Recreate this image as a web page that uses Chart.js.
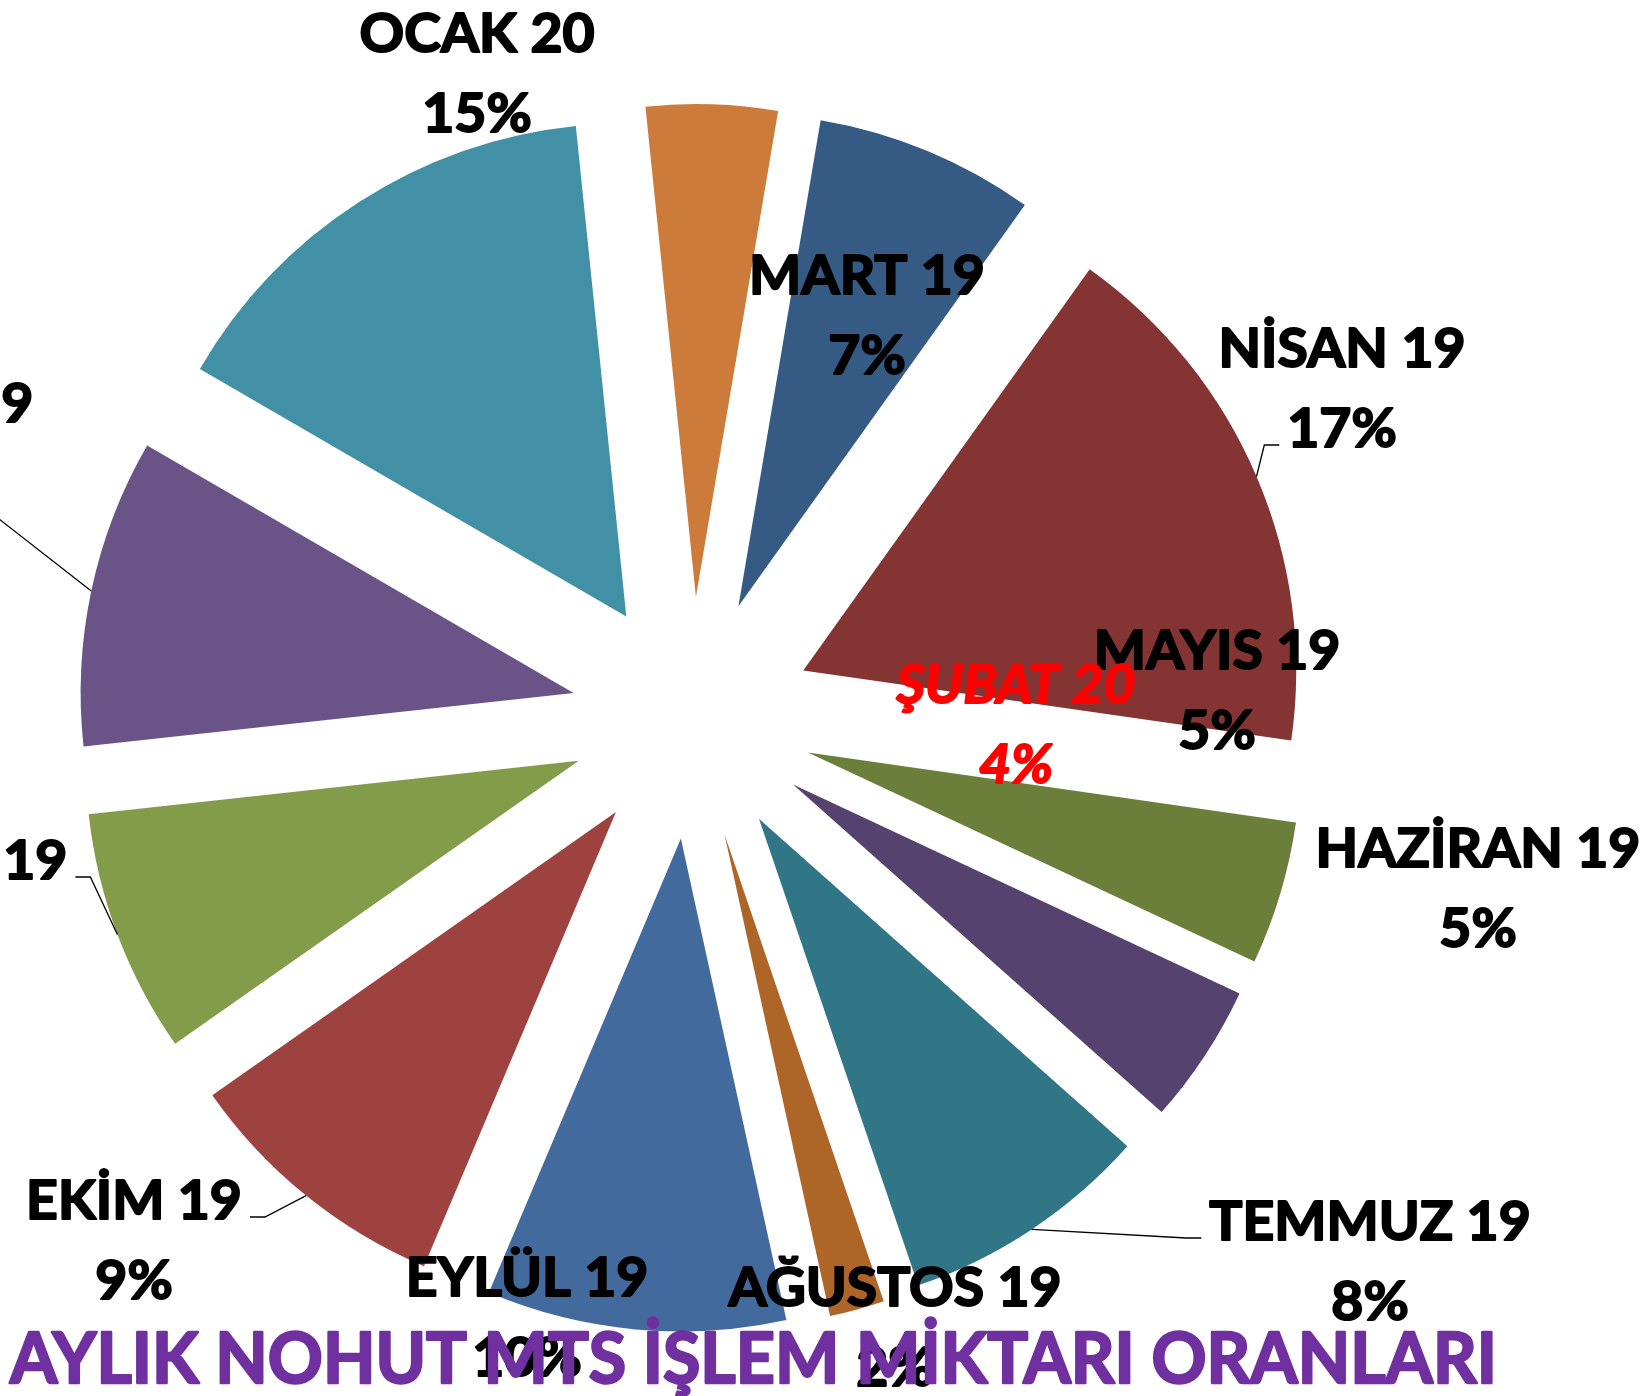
<!DOCTYPE html>
<html><head><meta charset="utf-8">
<script src="https://cdn.jsdelivr.net/npm/chart.js@4"></script>
<style>html,body{margin:0;padding:0;background:#fff;overflow:hidden}canvas{display:block}</style>
</head><body>
<canvas id="c" width="1651" height="1396"></canvas>
<script>
// ---- data ----
const categories = ['MART 19','NİSAN 19','MAYIS 19','HAZİRAN 19','TEMMUZ 19','AĞUSTOS 19','EYLÜL 19','EKİM 19','KASIM 19','ARALIK 19','OCAK 20','ŞUBAT 20'];
const shares = [7.2, 17.4, 4.7, 4.6, 8.2, 1.8, 9.8, 8.9, 8.0, 10.1, 15.0, 4.3];
const titleText = 'AYLIK NOHUT MTS İŞLEM MİKTARI ORANLARI';

// ---- styles / layout ----
const sliceColors = ['#355A84','#843533','#6B7E3A','#56426F','#317687','#AE6628','#436A9C','#9E4240','#829C4A','#6A5387','#4190A6','#CD7B3A'];
const labelColors = ['#000','#000','#000','#000','#000','#000','#000','#000','#000','#000','#000','#FF0000'];
const labelItalic = [false,false,false,false,false,false,false,false,false,false,false,true];
// label anchor (centre x, first-line baseline) relative to pie centre
const labelOffsets = [[175,-424],[650,-351],[525,-49],[786,149],[678,522],[203,588],[-165,578],[-558,501],[-751,161],[-795,-296],[-215,-666],[324,-15]];
// leader lines: [line index, side of text] or null
const leaderSpecs = [null,[1,'left'],null,null,[0,'left'],null,null,[0,'right'],[0,'right'],[1,'right'],null,null];
const EXPLODE = 121, RADIUS = 493, ROTATION = 9.6;
const LABEL_FONT = 54, LABEL_REF_WIDTH = 235, LINE_GAP = 80;
const TITLE_FONT = 70, TITLE_WIDTH = 1487, TITLE_X = 10, TITLE_BASE = 1383;
const FAMILY = 'Lato, "Open Sans", sans-serif';

const explodePlugin = {
  id: 'explode',
  beforeDatasetDraw(chart, args) {
    const ctx = chart.ctx;
    args.meta.data.forEach(arc => {
      const mid = (arc.startAngle + arc.endAngle) / 2;
      ctx.save();
      ctx.translate(Math.cos(mid) * EXPLODE, Math.sin(mid) * EXPLODE);
      arc.draw(ctx, chart.chartArea);
      ctx.restore();
    });
    return false;
  }
};

function drawScaled(ctx, text, x, y, sx, align, thick) {
  const w = ctx.measureText(text).width * sx;
  let left = x;
  if (align === 'center') left = x - w / 2;
  else if (align === 'right') left = x - w;
  ctx.save();
  ctx.translate(left, y);
  ctx.scale(sx, 1);
  ctx.textAlign = 'left';
  ctx.fillText(text, 0, 0);
  ctx.strokeStyle = ctx.fillStyle;
  ctx.lineWidth = thick;
  ctx.lineJoin = 'round';
  ctx.strokeText(text, 0, 0);
  ctx.restore();
  return [left, left + w];
}

const labelPlugin = {
  id: 'labels',
  afterDraw(chart) {
    const ctx = chart.ctx;
    const arcs = chart.getDatasetMeta(0).data;
    const cx = arcs[0].x, cy = arcs[0].y;
    const total = shares.reduce((a, b) => a + b, 0);
    ctx.save();
    ctx.font = 'bold ' + LABEL_FONT + 'px ' + FAMILY;
    const sx = LABEL_REF_WIDTH / ctx.measureText('OCAK 20').width;
    ctx.textBaseline = 'alphabetic';
    arcs.forEach((arc, i) => {
      const x = cx + labelOffsets[i][0], y = cy + labelOffsets[i][1];
      const lines = [categories[i], Math.round(shares[i] / total * 100) + '%'];
      ctx.font = (labelItalic[i] ? 'italic ' : '') + 'bold ' + LABEL_FONT + 'px ' + FAMILY;
      const spec = leaderSpecs[i];
      if (spec) {
        const li = spec[0];
        const w = ctx.measureText(lines[li]).width * sx;
        const by = y + li * LINE_GAP - 2;
        const endX = spec[1] === 'left' ? x - w / 2 - 8 : x + w / 2 + 8;
        const elbowX = spec[1] === 'left' ? endX - 15 : endX + 15;
        const mid = (arc.startAngle + arc.endAngle) / 2;
        const r = EXPLODE + arc.outerRadius;
        const sxp = arc.x + Math.cos(mid) * r, syp = arc.y + Math.sin(mid) * r;
        ctx.beginPath();
        ctx.moveTo(sxp, syp);
        ctx.lineTo(elbowX, by);
        ctx.lineTo(endX, by);
        ctx.strokeStyle = '#000';
        ctx.lineWidth = 1.3;
        ctx.stroke();
      }
      ctx.fillStyle = labelColors[i];
      lines.forEach((t, k) => drawScaled(ctx, t, x, y + k * LINE_GAP, sx, 'center', 2));
    });
    // title
    ctx.font = 'bold ' + TITLE_FONT + 'px ' + FAMILY;
    const tsx = TITLE_WIDTH / ctx.measureText(titleText).width;
    ctx.fillStyle = '#7030A0';
    drawScaled(ctx, titleText, TITLE_X, TITLE_BASE, tsx, 'left', 2.4);
    ctx.restore();
  }
};

new Chart(document.getElementById('c'), {
  type: 'pie',
  data: {
    labels: categories,
    datasets: [{
      data: shares,
      backgroundColor: sliceColors,
      borderWidth: 0,
      offset: 0
    }]
  },
  options: {
    responsive: false,
    devicePixelRatio: 1,
    animation: false,
    rotation: ROTATION,
    radius: RADIUS,
    layout: { padding: { left: 0, right: 267, top: 40, bottom: 0 } },
    plugins: { legend: { display: false }, tooltip: { enabled: false }, title: { display: false } },
    events: []
  },
  plugins: [explodePlugin, labelPlugin]
});
</script>
</body></html>
